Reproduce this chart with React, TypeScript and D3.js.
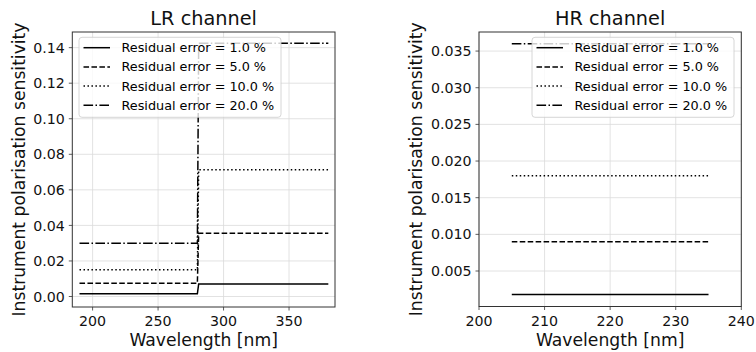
import React from "react";
import * as d3 from "d3";

// ---- data ----
const residualErrors = [1.0, 5.0, 10.0, 20.0];
const lrWavelengths = [190, 280, 281, 380];
const lrBefore = [0.0015, 0.0075, 0.015, 0.030];
const lrAfter = [0.0071, 0.0356, 0.0713, 0.1425];
const hrWavelengths = [205, 235];
const hrValues = [0.0018, 0.009, 0.018, 0.036];

const lrXTicks = [200, 250, 300, 350];
const lrYTicks = [0.0, 0.02, 0.04, 0.06, 0.08, 0.1, 0.12, 0.14];
const hrXTicks = [200, 210, 220, 230, 240];
const hrYTicks = [0.005, 0.01, 0.015, 0.02, 0.025, 0.03, 0.035];

const lrXDomain = [184.5, 385.1];
const lrYDomain = [-0.0059, 0.1488];
const hrXDomain = [200, 240];
const hrYDomain = [0.00016, 0.0376];

const dashes = ["none", "5.55,2.4", "1.5,2.475", "9.6,2.4,1.5,2.4"];

const FONT = "DejaVu Sans";

type Series = { label: string; pts: [number, number][] };

function Panel(props: {
  x0: number; x1: number; y0: number; y1: number;
  xDomain: number[]; yDomain: number[];
  xTicks: number[]; yTicks: number[];
  xFmt: (v: number) => string; yFmt: (v: number) => string;
  title: string; series: Series[];
  legendX: number; legendY: number; labelX: number;
}) {
  const { x0, x1, y0, y1, series } = props;
  const x = d3.scaleLinear().domain(props.xDomain).range([x0, x1]);
  const y = d3.scaleLinear().domain(props.yDomain).range([y1, y0]);
  const line = d3.line<[number, number]>().x((d) => x(d[0])).y((d) => y(d[1]));
  const clipId = "clip-" + props.title.replace(/\s/g, "");
  const lw = 202, lh = 80, rowH = 19.2;
  return (
    <g fontFamily={FONT}>
      <defs>
        <clipPath id={clipId}>
          <rect x={x0} y={y0} width={x1 - x0} height={y1 - y0} />
        </clipPath>
      </defs>
      <rect x={x0} y={y0} width={x1 - x0} height={y1 - y0} fill="white" />
      {props.xTicks.map((t) => (
        <line key={"gx" + t} x1={x(t)} x2={x(t)} y1={y0} y2={y1} stroke="#dadada" strokeWidth={0.8} />
      ))}
      {props.yTicks.map((t) => (
        <line key={"gy" + t} x1={x0} x2={x1} y1={y(t)} y2={y(t)} stroke="#dadada" strokeWidth={0.8} />
      ))}
      <g clipPath={`url(#${clipId})`}>
        {series.map((s, i) => (
          <path key={s.label} d={line(s.pts) || ""} fill="none" stroke="black" strokeWidth={1.5}
            strokeDasharray={dashes[i]} />
        ))}
      </g>
      {/* legend */}
      <rect x={props.legendX} y={props.legendY} width={lw} height={lh} rx={3} ry={3}
        fill="white" fillOpacity={0.8} stroke="#cccccc" strokeWidth={0.8} />
      {series.map((s, i) => {
        const cy = props.legendY + 10.4 + i * rowH;
        return (
          <g key={"lg" + i}>
            <line x1={props.legendX + 4.5} x2={props.legendX + 31} y1={cy} y2={cy}
              stroke="black" strokeWidth={1.5} strokeDasharray={dashes[i]} />
            <text x={props.legendX + 42.5} y={cy} dy="0.35em" fontSize={12.8} fill="black">{s.label}</text>
          </g>
        );
      })}
      {/* spines */}
      <rect x={x0} y={y0} width={x1 - x0} height={y1 - y0} fill="none" stroke="#333333" strokeWidth={1} />
      {props.xTicks.map((t) => (
        <g key={"tx" + t}>
          <line x1={x(t)} x2={x(t)} y1={y1} y2={y1 + 3.5} stroke="#333333" strokeWidth={0.8} />
          <text x={x(t)} y={326} textAnchor="middle" fontSize={14.2} fill="#111">{props.xFmt(t)}</text>
        </g>
      ))}
      {props.yTicks.map((t) => (
        <g key={"ty" + t}>
          <line x1={x0 - 3.5} x2={x0} y1={y(t)} y2={y(t)} stroke="#333333" strokeWidth={0.8} />
          <text x={x0 - 7.5} y={y(t)} dy="0.36em" textAnchor="end" fontSize={14.2} fill="#111">{props.yFmt(t)}</text>
        </g>
      ))}
      <text x={(x0 + x1) / 2} y={25} textAnchor="middle" fontSize={19.3} fill="#111">{props.title}</text>
      <text x={(x0 + x1) / 2} y={346} textAnchor="middle" fontSize={17.2} fill="#111">Wavelength [nm]</text>
      <text transform={`translate(${props.labelX},${(y0 + y1) / 2}) rotate(-90)`} textAnchor="middle"
        dy="0.35em" fontSize={17.2} fill="#111">Instrument polarisation sensitivity</text>
    </g>
  );
}

export default function App() {
  const lrSeries: Series[] = residualErrors.map((e, i) => ({
    label: `Residual error = ${e.toFixed(1)} %`,
    pts: [
      [lrWavelengths[0], lrBefore[i]],
      [lrWavelengths[1], lrBefore[i]],
      [lrWavelengths[2], lrAfter[i]],
      [lrWavelengths[3], lrAfter[i]],
    ],
  }));
  const hrSeries: Series[] = residualErrors.map((e, i) => ({
    label: `Residual error = ${e.toFixed(1)} %`,
    pts: hrWavelengths.map((w) => [w, hrValues[i]] as [number, number]),
  }));
  return (
    <svg width={756} height={352} style={{ position: "absolute", left: 0, top: 0 }}>
      <rect width={756} height={352} fill="white" />
      <Panel x0={72.3} x1={335} y0={32} y1={307} xDomain={lrXDomain} yDomain={lrYDomain}
        xTicks={lrXTicks} yTicks={lrYTicks} xFmt={(v) => d3.format("d")(v)} yFmt={(v) => d3.format(".2f")(v)}
        title="LR channel" series={lrSeries} legendX={79} legendY={37.3} labelX={19} />
      <Panel x0={479} x1={741.3} y0={32} y1={306.5} xDomain={hrXDomain} yDomain={hrYDomain}
        xTicks={hrXTicks} yTicks={hrYTicks} xFmt={(v) => d3.format("d")(v)} yFmt={(v) => d3.format(".3f")(v)}
        title="HR channel" series={hrSeries} legendX={532} legendY={37.3} labelX={415.5} />
    </svg>
  );
}
